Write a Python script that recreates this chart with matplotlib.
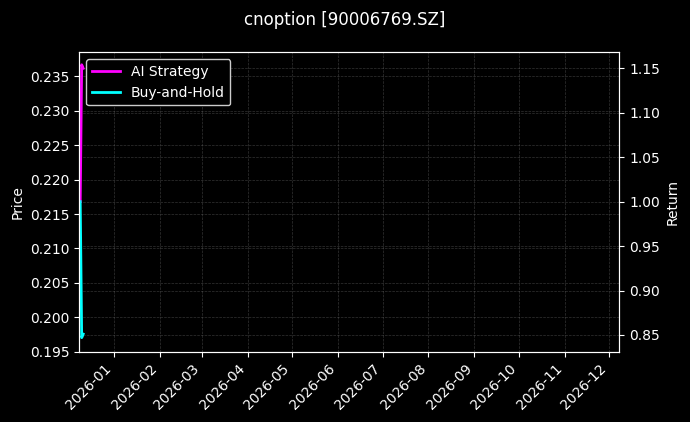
import matplotlib
matplotlib.use("Agg")
import matplotlib.pyplot as plt
import matplotlib.dates as mdates
import pandas as pd

plt.style.use("dark_background")

dates = pd.to_datetime(["2025-12-09", "2025-12-10", "2025-12-11"])
strategy = [1.0, 1.154, 1.150]
buy_hold = [1.0, 0.847, 0.851]

x_start = pd.Timestamp("2025-12-08 10:00")
x_end = pd.Timestamp("2026-12-07 18:00")

fig = plt.figure(figsize=(6.9, 4.22), dpi=100)
ax = fig.add_axes([0.115, 0.1666, 0.7825, 0.7094])
ax2 = ax.twinx()

ax2.plot(dates, strategy, color="#ff00ff", lw=2, label="AI Strategy")
ax2.plot(dates, buy_hold, color="#00ffff", lw=2, label="Buy-and-Hold")

ax.set_xlim(x_start, x_end)
ax.set_ylim(0.195, 0.2385)
ax2.set_ylim(0.8312, 1.168)

ax.xaxis.set_major_locator(mdates.MonthLocator())
ax.xaxis.set_major_formatter(mdates.DateFormatter("%Y-%m"))
plt.setp(ax.get_xticklabels(), rotation=45, ha="right")

ax.set_ylabel("Price")
ax2.set_ylabel("Return")
ax.grid(True, linestyle="--", color="gray", alpha=0.4, lw=0.5)
ax2.grid(True, linestyle="--", color="gray", alpha=0.4, lw=0.5)

ax2.legend(loc="upper left", facecolor="black", edgecolor="#cccccc", framealpha=1)
fig.suptitle("cnoption [90006769.SZ]", fontsize=12, y=0.975)

fig.savefig("out.png", dpi=100, facecolor="black")
